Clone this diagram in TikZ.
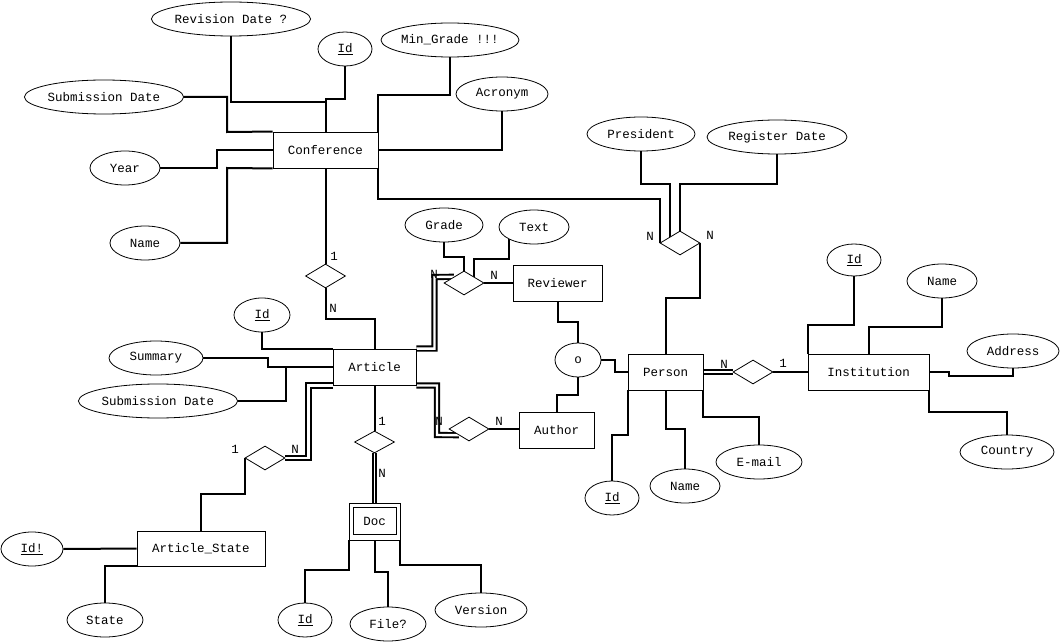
\documentclass[tikz,border=0pt]{standalone}
\usepackage{fontspec}
\setmainfont{Liberation Mono}
\usetikzlibrary{shapes.geometric}
\pgfdeclarelayer{background}
\pgfsetlayers{background,main}
\begin{document}
\begin{tikzpicture}[x=1pt,y=-1pt,
  every node/.style={font=\fontsize{12.5}{14}\selectfont, inner sep=0pt},
  entity/.style={draw, line width=0.9pt, fill=white, minimum height=36pt},
  attr/.style={draw, ellipse, line width=0.8pt, fill=white, minimum height=34pt},
  rel/.style={draw, diamond, line width=0.8pt, fill=white, minimum width=40pt, minimum height=24pt},
  conn/.style={line width=2pt},
  dbl/.style={double, line width=1.9pt, double distance=2.4pt},
  dblthin/.style={double, line width=1.5pt, double distance=1.8pt},
  card/.style={font=\fontsize{12.5}{14}\selectfont}]
\useasboundingbox (0,0) rectangle (1062,644);

% ---------- entities ----------
\node[entity, minimum width=105pt] (conf) at (325.5,150) {Conference};
\node[entity, minimum width=83pt] (art) at (374.5,367) {Article};
\node[entity, minimum width=89pt] (rev) at (557.5,283) {Reviewer};
\node[entity, minimum width=75pt] (auth) at (556.5,430) {Author};
\node[entity, minimum width=75pt] (per) at (665.5,372) {Person};
\node[entity, minimum width=121pt] (inst) at (868.5,372) {Institution};
\node[entity, minimum width=128pt, minimum height=35pt] (ast) at (201,548.5) {Article\_State};
\node[entity, minimum width=51pt, minimum height=37pt] (doc) at (374.5,521.5) {Doc};
\draw[line width=0.9pt] ([shift={(5,5)}]doc.north west) rectangle ([shift={(-4,-6)}]doc.south east);

% ---------- relationships ----------
\node[rel] (wr) at (325.5,276) {};
\node[rel] (rv) at (464,283) {};
\node[rel] (mng) at (680,243) {};
\node[rel] (wk) at (753,372) {};
\node[rel] (ar) at (469,429) {};
\node[rel, minimum height=22pt] (dr) at (374.5,442) {};
\node[rel] (asr) at (265,458) {};

% ---------- attributes ----------
\node[attr, minimum width=154pt] (revd) at (231,19) {Revision Date ?};
\node[attr, minimum width=54pt] (cid) at (345,49) {\underline{Id}};
\node[attr, minimum width=138pt] (ming) at (450,40) {Min\_Grade !!!};
\node[attr, minimum width=92pt] (acr) at (502,94) {Acronym};
\node[attr, minimum width=152pt] (csub) at (104,97) {Submission Date};
\node[attr, minimum width=70pt] (year) at (125,168) {Year};
\node[attr, minimum width=70pt] (cname) at (145,243) {Name};
\node[attr, minimum width=108pt] (pres) at (641,134) {President};
\node[attr, minimum width=140pt] (regd) at (777,137) {Register Date};
\node[attr, minimum width=78pt] (grade) at (444,225) {Grade};
\node[attr, minimum width=70pt] (txt) at (534,227) {Text};
\node[attr, minimum width=56pt] (aid) at (262,315) {\underline{Id}};
\node[attr, minimum width=94pt] (summ) at (156,358) {Summary};
\node[attr, minimum width=154pt] (asub) at (158,401) {Submission Date};
\node[attr, minimum width=46pt] (isa) at (578,360) {o};
\node[attr, minimum width=54pt] (pid) at (612,498) {\underline{Id}};
\node[attr, minimum width=70pt] (pname) at (685,486) {Name};
\node[attr, minimum width=86pt] (email) at (759,462) {E-mail};
\node[attr, minimum width=54pt, minimum height=32pt] (iid) at (854,260) {\underline{Id}};
\node[attr, minimum width=70pt] (iname) at (942,281) {Name};
\node[attr, minimum width=92pt] (addr) at (1013,351) {Address};
\node[attr, minimum width=94pt] (ctry) at (1007,452) {Country};
\node[attr, minimum width=62pt] (idx) at (32,549) {\underline{Id!}};
\node[attr, minimum width=76pt] (state) at (105,620) {State};
\node[attr, minimum width=54pt] (did) at (305,620) {\underline{Id}};
\node[attr, minimum width=76pt] (file) at (388,624) {File?};
\node[attr, minimum width=92pt] (ver) at (481,610) {Version};

% ---------- cardinalities ----------
\node[card] (k1) at (334,256) {1};
\node[card] (k2) at (333,308) {N};
\node[card] (k3) at (434,274) {N};
\node[card] (k4) at (494,275) {N};
\node[card] (k5) at (650,236) {N};
\node[card] (k6) at (710,235) {N};
\node[card] (k7) at (724,364) {N};
\node[card] (k8) at (783,363) {1};
\node[card] (k9) at (439,421) {N};
\node[card] (k10) at (499,421) {N};
\node[card] (k11) at (382,421) {1};
\node[card] (k12) at (382,473) {N};
\node[card] (k13) at (235,449) {1};
\node[card] (k14) at (295,449) {N};

% ---------- connectors ----------
\begin{pgfonlayer}{background}
\fill[white] (0,0) rectangle (1062,644);
% Conference
\draw[conn] (revd.south) |- (conf.north |- 0,102) -- (conf.north);
\draw[conn] (cid.south) |- (conf.north |- 0,99) -- (conf.north);
\draw[conn] (ming.south) |- (conf.north east |- 0,95) -- (conf.north east);
\draw[conn] (acr.south) |- (conf.east);
\draw[conn] (csub.east) -| (227,132) -- (conf.north west);
\draw[conn] (year.east) -| (217,150) -- (conf.west);
\draw[conn] (cname.east) -| (227,168) -- (conf.south west);
\draw[conn] (conf.south) -- (wr.north);
\draw[conn] (conf.south east) |- (mng.west |- 0,199) -- (mng.west);
% ternary relationship
\draw[conn] (pres.south) |- (mng.north west |- 0,184) -- (mng.north west);
\draw[conn] (regd.south) |- (mng.north |- 0,184) -- (mng.north);
\draw[conn] (mng.east) -- (mng.east |- 0,298) -| (per.north);
% Article
\draw[conn] (wr.south) |- (art.north |- 0,319) -- (art.north);
\draw[conn] (aid.south) |- (art.north west);
\draw[conn] (summ.east) -| (268,367) -- (art.west);
\draw[conn] (asub.east) -| (286,367);
\draw[dbl] (art.north east) -| (434.5,277) -- (rv.north west);
\draw[dbl] (art.south east) -| (437,435) -- (ar.south west);
\draw[dbl] (art.south west) -| (308.5,458) -- (asr.east);
\draw[conn] (art.south) -- (dr.north);
\draw[dblthin] (dr.south) -- (doc.north);
% reviews
\draw[conn] (grade.south) |- (rv.north |- 0,257) -- (rv.north);
\draw[conn] (txt.south west) |- (rv.north east |- 0,259) -- (rv.north east);
\draw[conn] (rv.east) -- (rev.west);
% specialisation
\draw[conn] (rev.south) |- (isa.north |- 0,322) -- (isa.north);
\draw[conn] (isa.south) |- (auth.north |- 0,395) -- (auth.north);
\draw[conn] (isa.east) -| (615,372) -- (per.west);
\draw[conn] (ar.east) -- (auth.west |- ar.east);
% Person
\draw[conn] (pid.north) |- (per.south west |- 0,435) -- (per.south west);
\draw[conn] (pname.north) |- (per.south |- 0,429) -- (per.south);
\draw[conn] (email.north) |- (per.south east |- 0,417) -- (per.south east);
\draw[dbl] (per.east) -- (wk.west);
\draw[conn] (wk.east) -- (inst.west);
% Institution
\draw[conn] (iid.south) |- (inst.north west |- 0,325) -- (inst.north west);
\draw[conn] (iname.south) |- (inst.north |- 0,327) -- (inst.north);
\draw[conn] (inst.east) -- (949,372) |- (addr.south |- 0,376) -- (addr.south);
\draw[conn] (ctry.north) |- (inst.south east |- 0,412) -- (inst.south east);
% Article_State
\draw[conn] (asr.west) |- (ast.north |- 0,494) -- (ast.north);
\draw[conn] (idx.east) -- (ast.west);
\draw[conn] (state.north) |- (ast.south west);
% Doc
\draw[conn] (did.north) |- (doc.south west |- 0,570) -- (doc.south west);
\draw[conn] (file.north) |- (doc.south |- 0,572) -- (doc.south);
\draw[conn] (ver.north) |- (doc.south east |- 0,565) -- (doc.south east);
\end{pgfonlayer}
\end{tikzpicture}
\end{document}
